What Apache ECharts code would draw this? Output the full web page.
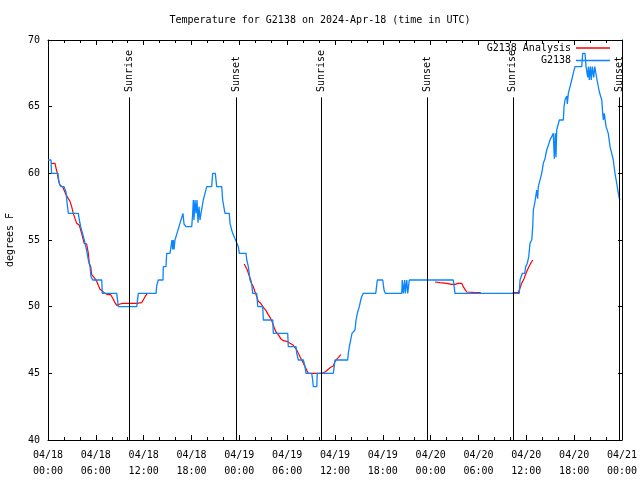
<!DOCTYPE html>
<html><head><meta charset="utf-8">
<script src="https://cdn.jsdelivr.net/npm/echarts@6/dist/echarts.min.js"></script>
<style>html,body{margin:0;padding:0;background:#fff}#c{width:640px;height:480px}</style>
</head><body><div id="c"></div>
<script>
// ---- data (hours after 2024-04-18 00:00 UTC) ----
const titleText = 'Temperature for G2138 on 2024-Apr-18 (time in UTC)';
const yAxisName = 'degrees F';
const analysisName = 'G2138 Analysis';
const obsName = 'G2138';
const yMin = 40, yMax = 70, yStep = 5;
const xMin = 0, xMax = 72, xStep = 6;
const sunriseHours = [10.2, 34.27, 58.3];
const sunsetHours = [23.67, 47.63, 71.67];

const g2138 = [[0,61],[0.38,61],[0.44,60],[1.25,60],[1.38,59.3],[1.63,59],[2.01,59],[2.26,58.6],[2.35,58],[2.55,57],[3.80,57],[3.93,56.5],[4.10,56],[4.35,56],[4.55,55],[4.77,55],[4.85,54.2],[5.06,53.5],[5.27,53],[5.36,53],[5.39,52.25],[5.61,52],[6.74,52],[6.81,51],[8.62,51],[8.82,50],[11.13,50],[11.33,51],[13.56,51],[13.64,51.6],[13.84,52],[14.43,52],[14.46,53],[14.80,53],[14.89,54],[15.30,54],[15.43,54.5],[15.55,55],[15.64,54.3],[15.72,55],[15.81,54.3],[15.93,55],[16.06,55],[16.18,55.5],[16.43,56],[16.68,56.5],[16.93,57],[17.06,56.2],[17.31,56],[18.03,56],[18.15,57],[18.23,58],[18.31,56.5],[18.44,58],[18.57,57],[18.69,58],[18.82,56.3],[18.94,57.5],[19.07,56.5],[19.19,57],[19.44,57],[19.48,58],[19.69,58.5],[19.91,59],[20.53,59],[20.66,60],[20.99,60],[21.16,59],[21.79,59],[21.91,58],[22.20,57],[22.74,57],[22.83,56.25],[23.04,55.75],[23.17,55.5],[23.46,55.1],[23.67,55],[23.87,54.5],[24.00,54],[24.84,54],[24.93,53.5],[25.13,53],[25.34,52],[25.55,51.7],[25.68,51],[26.18,51],[26.31,50],[26.93,50],[27.01,49],[28.19,49],[28.26,48],[30.07,48],[30.14,47],[31.11,47],[31.20,46.5],[31.40,46],[32.03,46],[32.24,45.5],[32.36,45],[33.08,45],[33.20,44.5],[33.28,44],[33.71,44],[33.78,45],[35.79,45],[36.00,46],[37.59,46],[37.67,46.5],[37.80,47],[37.97,47.5],[38.13,48],[38.51,48.25],[38.64,49],[38.80,49.5],[38.92,49.75],[39.05,50],[39.23,50.5],[39.35,50.75],[39.55,51],[41.11,51],[41.31,52],[41.99,52],[42.15,51.25],[42.31,51],[44.37,51],[44.44,52],[44.57,51],[44.74,52],[44.82,51],[45.00,52],[45.12,51],[45.32,52],[50.84,52],[51.05,51],[59.12,51],[59.21,52],[59.42,52],[59.50,52.5],[59.80,52.5],[59.92,53],[60.12,53.25],[60.30,53.75],[60.46,54.75],[60.68,55],[60.80,56],[60.88,57.25],[61.09,57.9],[61.30,58.75],[61.42,58.1],[61.50,59],[61.72,59],[61.93,60],[62.13,60.75],[62.34,61.1],[62.56,61.75],[62.76,62.1],[62.97,62.5],[63.18,62.75],[63.38,63],[63.51,61.1],[63.63,63],[63.72,61.2],[63.81,63.25],[64.01,63.3],[64.14,64],[64.64,64],[64.73,65],[64.85,65.5],[65.07,65.8],[65.14,65.2],[65.27,66],[65.48,66.1],[65.69,67],[65.89,67.5],[66.10,68],[66.95,68],[67.07,69],[67.36,69],[67.49,68],[67.65,68],[67.70,67.2],[67.78,68],[67.90,67],[68.03,68],[68.15,67],[68.28,68],[68.45,67.2],[68.58,68],[68.83,68],[68.87,67],[69.03,67],[69.16,66.1],[69.46,65.5],[69.58,64.5],[69.66,64],[69.78,64.5],[69.87,64.5],[70.00,63.5],[70.08,63.4],[70.28,63],[70.50,62],[70.71,61.5],[70.91,61],[71.12,60],[71.34,59.25],[71.54,58.5],[71.67,58.1],[71.75,58]];

const analysisDay1 = [[0.38,60.75],[0.88,60.75],[1.00,60.4],[1.17,60],[1.29,59.55],[1.51,59.1],[1.84,59],[2.01,58.75],[2.26,58.4],[2.55,58.1],[2.76,57.9],[2.97,57.5],[3.17,57],[3.39,56.6],[3.60,56.25],[3.93,56.1],[4.10,55.75],[4.26,55.4],[4.43,55],[4.55,54.75],[4.85,54.7],[5.06,54],[5.18,53.25],[5.36,53],[5.48,52.4],[5.68,52.25],[5.90,52.1],[6.11,51.9],[6.31,51.6],[6.52,51.3],[6.86,51.15],[7.15,51],[7.56,50.9],[7.87,50.9],[8.19,50.55],[8.40,50.3],[8.62,50.1],[9.03,50.2],[9.37,50.25],[11.13,50.25],[11.33,50.3],[11.75,50.3],[11.95,50.5],[12.17,50.75],[12.46,51]];
const analysisDay2 = [[24.62,53.2],[24.84,53.1],[25.00,52.75],[25.25,52.3],[25.43,52],[25.55,51.7],[25.75,51.5],[25.97,51.1],[26.18,50.75],[26.38,50.4],[26.68,50.25],[27.01,49.95],[27.35,49.7],[27.63,49.4],[27.94,49.1],[28.19,48.75],[28.39,48.4],[28.60,48.1],[28.89,47.9],[29.19,47.6],[29.52,47.45],[29.94,47.4],[30.36,47.25],[30.77,47.1],[30.98,47],[31.20,46.75],[31.40,46.5],[31.61,46.25],[31.82,46],[32.03,45.75],[32.24,45.5],[32.45,45.25],[32.65,45],[34.33,45],[34.75,45.1],[35.16,45.3],[35.46,45.45],[35.79,45.55],[36.00,45.9],[36.29,46.1],[36.54,46.25],[36.75,46.4]];
const analysisDay3 = [[48.55,51.85],[49.17,51.8],[49.26,51.75],[50.01,51.75],[50.09,51.67],[50.64,51.67],[50.84,51.6],[51.05,51.67],[51.47,51.75],[51.89,51.75],[52.09,51.5],[52.30,51.3],[52.52,51.1],[53.35,51.07],[54.28,51.05]];
const analysisDay4 = [[58.29,51.05],[58.99,51.05],[59.21,51.4],[59.42,51.75],[59.71,52.1],[59.96,52.5],[60.25,52.9],[60.55,53.25],[60.80,53.5]];

// ---- styling ----
const FONT = 'DejaVu Sans Mono';
const RED = '#ff0000';
const BLUE = '#0a84ff';
const lineTopValue = 65.7;   // where the event line stops
const labelBaseValue = 66.1; // where the event label starts

function xLabel(v) {
  const day = 18 + Math.floor(v / 24);
  const hh = v % 24;
  return '04/' + String(day).padStart(2, '0') + '\n' + String(hh).padStart(2, '0') + ':00';
}

const eventLines = [];
function addEvent(h, name) {
  eventLines.push([{ coord: [h, yMin], label: { show: false } }, { coord: [h, lineTopValue] }]);
  eventLines.push([
    { coord: [h, labelBaseValue], lineStyle: { color: 'rgba(0,0,0,0)', width: 0 },
      label: { show: true, formatter: name, position: 'insideStart', distance: 0, color: '#000', fontFamily: FONT, fontSize: 10 } },
    { coord: [h, yMax] }
  ]);
}
sunriseHours.forEach(h => addEvent(h, 'Sunrise'));
sunsetHours.forEach(h => addEvent(h, 'Sunset'));

const axisLine = { show: true, onZero: false, lineStyle: { color: '#000', width: 1 } };
const tickStyle = { color: '#000', width: 1 };

function analysisSeries(data) {
  return { name: analysisName, type: 'line', data: data, showSymbol: false, symbol: 'none',
    lineStyle: { color: RED, width: 1.2 }, itemStyle: { color: RED }, z: 2, animation: false, silent: true };
}

const legendCommon = { orient: 'vertical', align: 'right', icon: 'rect', padding: 0,
  itemWidth: 34, itemHeight: 1.5, selectedMode: false,
  textStyle: { fontFamily: FONT, fontSize: 10, color: '#000' } };

const chart = echarts.init(document.getElementById('c'), null, { renderer: 'canvas' });
chart.setOption({
  animation: false,
  backgroundColor: '#fff',
  title: { text: titleText, left: 'center', top: 10,
    textStyle: { fontFamily: FONT, fontSize: 10, fontWeight: 'normal', color: '#000' } },
  legend: [
    Object.assign({ data: [analysisName], right: 30, top: 43 }, legendCommon),
    Object.assign({ data: [obsName], right: 30, top: 55.5 }, legendCommon)
  ],
  grid: { left: 48, right: 18, top: 40, bottom: 40, containLabel: false, outerBoundsMode: 'none' },
  xAxis: [
    { type: 'value', min: xMin, max: xMax, interval: xStep, position: 'bottom',
      axisLine: axisLine,
      axisTick: { show: true, inside: true, length: 5, lineStyle: tickStyle },
      minorTick: { show: true, splitNumber: 3, length: 3, lineStyle: tickStyle },
      splitLine: { show: false },
      axisLabel: { formatter: xLabel, fontFamily: FONT, fontSize: 10, color: '#000', margin: 7, lineHeight: 16 } },
    { type: 'value', min: xMin, max: xMax, interval: xStep, position: 'top',
      axisLine: axisLine,
      axisTick: { show: true, inside: true, length: 5, lineStyle: tickStyle },
      minorTick: { show: true, splitNumber: 3, length: 3, lineStyle: tickStyle },
      splitLine: { show: false }, axisLabel: { show: false } }
  ],
  yAxis: [
    { type: 'value', min: yMin, max: yMax, interval: yStep, position: 'left',
      name: yAxisName, nameLocation: 'middle', nameGap: 33, nameRotate: 90,
      nameTextStyle: { fontFamily: FONT, fontSize: 10, color: '#000' },
      axisLine: axisLine,
      axisTick: { show: true, inside: true, length: 4, lineStyle: tickStyle },
      splitLine: { show: false },
      axisLabel: { fontFamily: FONT, fontSize: 10, color: '#000', margin: 8 } },
    { type: 'value', min: yMin, max: yMax, interval: yStep, position: 'right',
      axisLine: axisLine,
      axisTick: { show: true, inside: true, length: 4, lineStyle: tickStyle },
      splitLine: { show: false }, axisLabel: { show: false } }
  ],
  series: [
    analysisSeries(analysisDay1),
    analysisSeries(analysisDay2),
    analysisSeries(analysisDay3),
    analysisSeries(analysisDay4),
    { name: obsName, type: 'line', data: g2138, showSymbol: false, symbol: 'none',
      lineStyle: { color: BLUE, width: 1.3 }, itemStyle: { color: BLUE }, z: 3, animation: false, silent: true,
      markLine: { silent: true, symbol: ['none', 'none'], animation: false,
        lineStyle: { color: '#000', width: 1, type: 'solid' },
        label: { show: false }, data: eventLines } }
  ]
});
</script></body></html>
